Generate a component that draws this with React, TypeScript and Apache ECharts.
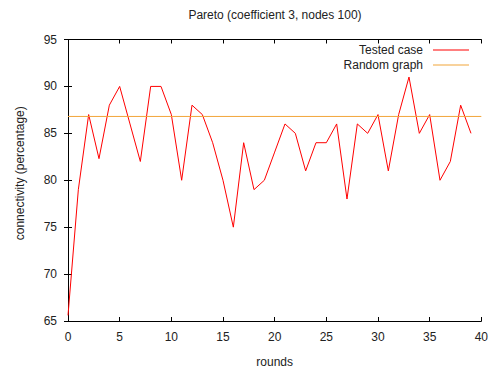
import React, { useEffect, useRef } from "react";
import * as echarts from "echarts";

const rounds: number[] = [
  0, 1, 2, 3, 4, 5, 6, 7, 8, 9, 10, 11, 12, 13, 14, 15, 16, 17, 18, 19,
  20, 21, 22, 23, 24, 25, 26, 27, 28, 29, 30, 31, 32, 33, 34, 35, 36, 37, 38, 39,
];
const testedCase: number[] = [
  65.6, 79, 87, 82.3, 88, 90, 86, 82, 90, 90, 87, 80, 88, 87, 84, 80, 75, 84, 79, 80,
  83, 86, 85, 81, 84, 84, 86, 78, 86, 85, 87, 81, 87, 91, 85, 87, 80, 82, 88, 85,
];
const randomGraphValue = 86.8;
const randomGraphX: number[] = [0, 40];

const FONT = "'Liberation Sans', Arial, Helvetica, sans-serif";

export default function App() {
  const ref = useRef<HTMLDivElement>(null);
  useEffect(() => {
    if (!ref.current) return;
    const chart = echarts.init(ref.current, undefined, { renderer: "svg" });
    const axisLine = { show: true, lineStyle: { color: "#000", width: 1 } };
    const tick = { show: true, inside: true, length: 4, lineStyle: { color: "#000" } };
    chart.setOption({
      animation: false,
      backgroundColor: "#fff",
      title: {
        text: "Pareto (coefficient 3, nodes 100)",
        left: 275,
        top: 9,
        padding: 0,
        textAlign: "center",
        textStyle: { fontFamily: FONT, fontSize: 12, fontWeight: "normal", color: "#222" },
      },
      legend: [
        {
          data: ["Tested case"],
          orient: "vertical",
          align: "right",
          right: 22,
          top: 44,
          padding: 0,
          icon: "rect",
          itemWidth: 36,
          itemHeight: 1,
          textStyle: { fontFamily: FONT, fontSize: 12, color: "#222", padding: [0, 5, 0, 0] },
        },
        {
          data: ["Random graph"],
          orient: "vertical",
          align: "right",
          right: 22,
          top: 59,
          padding: 0,
          icon: "rect",
          itemWidth: 36,
          itemHeight: 1,
          textStyle: { fontFamily: FONT, fontSize: 12, color: "#222", padding: [0, 5, 0, 0] },
        },
      ],
      grid: { left: 68, right: 5.5, top: 39.5, bottom: 48.5, containLabel: false },
      xAxis: [
        {
          type: "value",
          min: 0,
          max: 40,
          interval: 5,
          position: "bottom",
          name: "rounds",
          nameLocation: "middle",
          nameGap: 35,
          nameTextStyle: { fontFamily: FONT, fontSize: 12, color: "#222" },
          axisLine,
          axisTick: tick,
          axisLabel: { margin: 10, fontFamily: FONT, fontSize: 12, color: "#222" },
          splitLine: { show: false },
        },
        {
          type: "value",
          min: 0,
          max: 40,
          interval: 5,
          position: "top",
          axisLine,
          axisTick: tick,
          axisLabel: { show: false },
          splitLine: { show: false },
        },
      ],
      yAxis: [
        {
          type: "value",
          min: 65,
          max: 95,
          interval: 5,
          position: "left",
          name: "connectivity (percentage)",
          nameLocation: "middle",
          nameGap: 42,
          nameTextStyle: { fontFamily: FONT, fontSize: 12, color: "#222", padding: [0, 0, 0, 14] },
          axisLine,
          axisTick: tick,
          axisLabel: { margin: 11, fontFamily: FONT, fontSize: 12, color: "#222" },
          splitLine: { show: false },
        },
        {
          type: "value",
          min: 65,
          max: 95,
          interval: 5,
          position: "right",
          axisLine,
          axisTick: tick,
          axisLabel: { show: false },
          splitLine: { show: false },
        },
      ],
      series: [
        {
          name: "Tested case",
          type: "line",
          xAxisIndex: 0,
          yAxisIndex: 0,
          data: rounds.map((r, i) => [r, testedCase[i]]),
          symbol: "none",
          color: "#ff0000",
          lineStyle: { color: "#ff0000", width: 1 },
        },
        {
          name: "Random graph",
          type: "line",
          xAxisIndex: 0,
          yAxisIndex: 0,
          data: randomGraphX.map((x) => [x, randomGraphValue]),
          symbol: "none",
          color: "#f2a53a",
          lineStyle: { color: "#f2a53a", width: 1 },
        },
      ],
    });
    return () => chart.dispose();
  }, []);
  return <div ref={ref} style={{ width: 491, height: 373, position: "absolute", left: 0, top: 0 }} />;
}
